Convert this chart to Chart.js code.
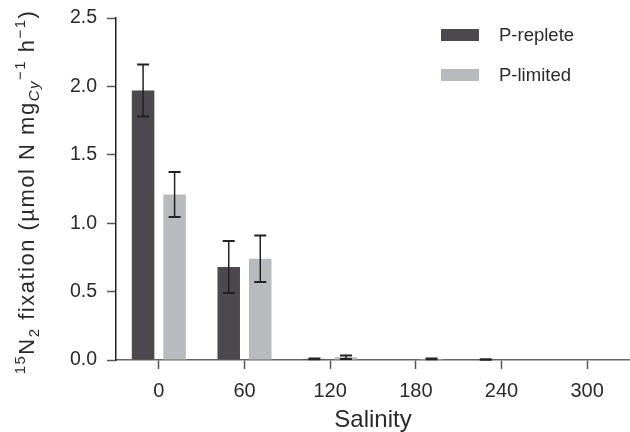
<!DOCTYPE html>
<html>
<head>
<meta charset="utf-8">
<script src="https://cdn.jsdelivr.net/npm/chart.js@4"></script>
<style>
  html, body { margin: 0; padding: 0; background: #fff; }
  #wrap { width: 630px; height: 432px; position: relative; }
</style>
</head>
<body>
<div id="wrap"><canvas id="c"></canvas></div>
<script>
// Fijación de N2 según salinidad — barras agrupadas con barras de error
const salinity = ["0", "60", "120", "180", "240", "300"];
const repleteVals = [1.97, 0.68, 0.008, 0, 0.004, 0];
const repleteErr  = [0.19, 0.19, 0.003, 0, 0.002, 0];
const limitedVals = [1.21, 0.74, 0.02, 0.008, 0, 0];
const limitedErr  = [0.165, 0.17, 0.012, 0.003, 0, 0];
const yTicks = ["0.0", "0.5", "1.0", "1.5", "2.0", "2.5"];

const DARK = "#4b494e", LIGHT = "#b9babd", INK = "#2a2a2a";
const FONT = "'Liberation Sans', Arial, sans-serif";

// barras de error encima de cada barra
const errorBars = {
  id: "errorBars",
  afterDatasetsDraw(chart) {
    const { ctx } = chart, y = chart.scales.y;
    chart.data.datasets.forEach((ds, i) => {
      chart.getDatasetMeta(i).data.forEach((bar, j) => {
        const v = ds.data[j], e = ds.err[j];
        if (!e) return;
        const top = y.getPixelForValue(v + e), bot = y.getPixelForValue(v - e);
        ctx.save();
        ctx.strokeStyle = "#222";
        ctx.lineWidth = 1.5;
        ctx.beginPath();
        ctx.moveTo(bar.x, top); ctx.lineTo(bar.x, bot);
        ctx.stroke();
        ctx.lineWidth = 2;
        ctx.beginPath();
        ctx.moveTo(bar.x - 6, top); ctx.lineTo(bar.x + 6, top);
        ctx.moveTo(bar.x - 6, bot); ctx.lineTo(bar.x + 6, bot);
        ctx.stroke();
        ctx.restore();
      });
    });
  },
};

// leyenda y título del eje Y con sub/superíndices
const extras = {
  id: "extras",
  afterDraw(chart) {
    const { ctx } = chart;
    ctx.save();
    // leyenda
    chart.data.datasets.forEach((ds, i) => {
      const yc = 35 + i * 40;
      ctx.fillStyle = ds.backgroundColor;
      ctx.fillRect(441, yc - 6, 38, 12);
      ctx.fillStyle = INK;
      ctx.font = `18.5px ${FONT}`;
      ctx.textBaseline = "middle";
      ctx.fillText(ds.label, 499, yc + 1);
    });

    // título Y
    const parts = [
      { t: "15", k: "sup" }, { t: "N" }, { t: "2", k: "sub" },
      { t: " fixation (\u00b5mol N mg" }, { t: "Cy", k: "sub", it: true },
      { t: "\u22121", k: "sup" }, { t: " h" }, { t: "\u22121", k: "sup" }, { t: ")" },
    ];
    const fontOf = (p) => `${p.it ? "italic " : ""}${p.k ? 15 : 22}px ${FONT}`;
    ctx.letterSpacing = "1.5px";
    let total = 0;
    parts.forEach((p) => { ctx.font = fontOf(p); p.w = ctx.measureText(p.t).width; total += p.w; });
    ctx.translate(34, 192);
    ctx.rotate(-Math.PI / 2);
    ctx.fillStyle = INK;
    ctx.textBaseline = "alphabetic";
    let x = -total / 2;
    parts.forEach((p) => {
      ctx.font = fontOf(p);
      const dy = p.k === "sup" ? -9 : p.k === "sub" ? 5 : 0;
      ctx.fillText(p.t, x, dy);
      x += p.w;
    });
    ctx.restore();
  },
};

new Chart(document.getElementById("c"), {
  type: "bar",
  data: {
    labels: salinity,
    datasets: [
      { label: "P-replete", data: repleteVals, err: repleteErr, backgroundColor: DARK },
      { label: "P-limited", data: limitedVals, err: limitedErr, backgroundColor: LIGHT },
    ],
  },
  options: {
    responsive: true,
    maintainAspectRatio: false,
    animation: false,
    categoryPercentage: 0.736,
    barPercentage: 0.714,
    layout: { padding: { top: 18, right: 0, left: 0, bottom: 0 } },
    plugins: { legend: { display: false }, tooltip: { enabled: false } },
    scales: {
      x: {
        grid: { offset: false, drawOnChartArea: false, drawTicks: true, tickLength: 9, tickColor: "#555", tickWidth: 1.5 },
        border: { display: true, color: "#666", width: 1.5 },
        ticks: { color: INK, font: { family: FONT, size: 20 }, padding: 10, maxRotation: 0 },
        title: { display: true, text: "Salinity", color: INK, font: { family: FONT, size: 24 }, padding: { top: 0, bottom: -3 } },
        afterFit: (s) => { s.height = 72; },
      },
      y: {
        min: 0, max: 2.5,
        grid: { drawOnChartArea: false, drawTicks: true, tickLength: 9, tickColor: "#555", tickWidth: 1.5 },
        border: { display: true, color: "#222", width: 1.5 },
        ticks: { stepSize: 0.5, color: INK, font: { family: FONT, size: 19.5 }, padding: 10,
          callback: (v, i) => yTicks[i] },
        afterFit: (s) => { s.width = 116; s.paddingTop = 0; s.paddingBottom = 0; },
      },
    },
  },
  plugins: [errorBars, extras],
});
</script>
</body>
</html>
